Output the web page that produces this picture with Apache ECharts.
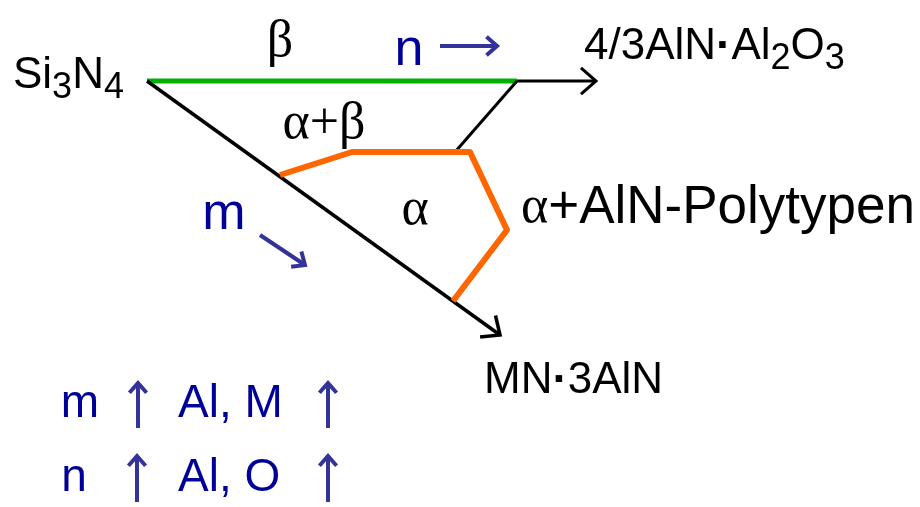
<!DOCTYPE html>
<html>
<head>
<meta charset="utf-8">
<script src="https://cdn.jsdelivr.net/npm/echarts@6/dist/echarts.min.js"></script>
<style>
  html, body { margin: 0; padding: 0; background: #fff; }
  #chart { width: 920px; height: 507px; }
</style>
</head>
<body>
<div id="chart"></div>
<script>
// diagram drawn in a plain x/y frame (0..920 across, 0..507 down)
const betaLine = [[147, 81], [517, 81]];
const nAxis = [[517, 81], [596, 81]];
const mAxis = [[147, 81], [500, 335]];
const tieLine = [[517, 81], [455, 152]];
const alphaBoundary = [[280, 175], [352, 152], [470, 152], [507, 230], [453, 301]];

// little blue direction arrows
const nArrow = [[440, 46], [497, 46]];
const mArrow = [[260, 235], [305, 265]];
const upArrows = [
  [[138, 428], [138, 383]],
  [[328, 428], [328, 383]],
  [[137, 502], [137, 456]],
  [[328, 502], [328, 456]]
];

// labels: [text, x, y]
const compoundLabels = [
  ['{n|Si}{s|3}{n|N}{s|4}', 13, 76],
  ['{n|4/3AlN}{d|·}{n|Al}{s|2}{n|O}{s|3}', 584, 47],
  ['{n|MN}{d|·}{n|3AlN}', 484, 381]
];
const phaseLabels = [
  ['{g|β}', 280, 42],
  ['{g|α+β}', 324, 124],
  ['{g|α}', 415, 210],
  ['{g|α}{t|+AlN-Polytypen}', 521, 208]
];
const trendLabels = [
  ['n', 409, 51],
  ['m', 224, 215]
];
const ruleLabels = [
  ['m', 80, 404],
  ['Al, M', 178, 404],
  ['n', 74, 478],
  ['Al, O', 178, 478]
];

const BLUE = '#000099';
const ARROW_BLUE = '#333399';

function path(name, pts, color, width, head, headLen) {
  return {
    type: 'custom',
    name: name,
    clip: false,
    silent: true,
    data: pts,
    encode: { x: 0, y: 1 },
    renderItem: function (params, api) {
      if (params.dataIndex !== 0) return;
      const p = pts.map(function (q) { return api.coord(q); });
      const kids = [{
        type: 'polyline',
        shape: { points: p },
        style: { stroke: color, lineWidth: width, fill: null, lineJoin: 'round' }
      }];
      if (head) {
        const a = p[p.length - 2], b = p[p.length - 1];
        const ang = Math.atan2(b[1] - a[1], b[0] - a[0]);
        const spread = 0.72;
        const l = headLen || 18;
        kids.push({
          type: 'polyline',
          shape: { points: [
            [b[0] - l * Math.cos(ang - spread), b[1] - l * Math.sin(ang - spread)],
            b,
            [b[0] - l * Math.cos(ang + spread), b[1] - l * Math.sin(ang + spread)]
          ] },
          style: { stroke: color, lineWidth: width, fill: null }
        });
      }
      return { type: 'group', children: kids };
    }
  };
}

function textSeries(name, list, label) {
  return {
    type: 'scatter',
    name: name,
    symbolSize: 0,
    silent: true,
    itemStyle: { opacity: 1 },
    data: list.map(function (d) { return { value: [d[1], d[2]], name: d[0] }; }),
    label: Object.assign({
      show: true, position: 'inside', formatter: '{b}',
      textBorderWidth: 0, textShadowBlur: 0, opacity: 1
    }, label)
  };
}

const sans = 'Liberation Sans, Arial, sans-serif';
const serif = 'Liberation Serif, Times New Roman, serif';

const chart = echarts.init(document.getElementById('chart'));
const option = {
  animation: false,
  backgroundColor: '#fff',
  grid: { left: 0, right: 0, top: 0, bottom: 0 },
  xAxis: { type: 'value', min: 0, max: 920, show: false },
  yAxis: { type: 'value', min: 0, max: 507, inverse: true, show: false },
  series: [
    path('beta', betaLine, '#00b000', 5, false),
    path('n axis', nAxis, '#000', 3, true, 20),
    path('m axis', mAxis, '#000', 3.5, true, 20),
    path('tie', tieLine, '#000', 3, false),
    path('alpha', alphaBoundary, '#ff6600', 6, false),
    path('n arrow', nArrow, ARROW_BLUE, 4, true, 14),
    path('m arrow', mArrow, ARROW_BLUE, 4, true, 14),
    path('up1', upArrows[0], ARROW_BLUE, 4, true, 13),
    path('up2', upArrows[1], ARROW_BLUE, 4, true, 13),
    path('up3', upArrows[2], ARROW_BLUE, 4, true, 13),
    path('up4', upArrows[3], ARROW_BLUE, 4, true, 13),
    textSeries('compounds', compoundLabels, {
      align: 'left', verticalAlign: 'middle', color: '#000',
      rich: {
        n: { fontFamily: sans, fontSize: 44, lineHeight: 50, color: '#000' },
        d: { fontFamily: sans, fontSize: 46, fontWeight: 'bold', lineHeight: 50, color: '#000' },
        s: { fontFamily: sans, fontSize: 36, lineHeight: 50, padding: [24, 0, 0, 0], color: '#000' }
      }
    }),
    textSeries('phases', phaseLabels, {
      align: 'center', verticalAlign: 'middle',
      rich: {
        g: { fontFamily: serif, fontSize: 52, color: '#000' },
        t: { fontFamily: sans, fontSize: 53, color: '#000' }
      }
    }),
    textSeries('trends', trendLabels, {
      align: 'center', verticalAlign: 'middle', fontFamily: sans, fontSize: 52, color: BLUE
    }),
    textSeries('rules', ruleLabels, {
      align: 'left', verticalAlign: 'middle', fontFamily: sans, fontSize: 46, color: BLUE
    })
  ]
};
// the alpha+polytype label and the "m"/"n" rule letters are anchored differently
option.series[option.series.length - 3].data[3].label = { align: 'left' };
option.series[option.series.length - 1].data[0].label = { align: 'center' };
option.series[option.series.length - 1].data[2].label = { align: 'center' };
chart.setOption(option);
</script>
</body>
</html>
